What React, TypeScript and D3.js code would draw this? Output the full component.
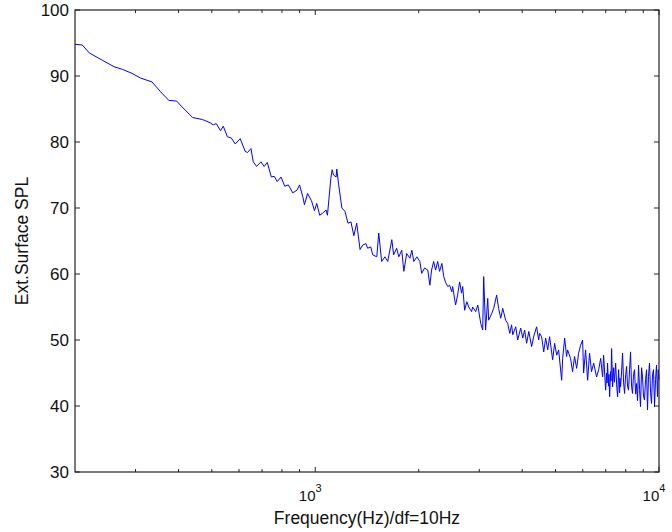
import React from 'react';
import * as d3 from 'd3';

// Frequency (Hz) samples
const freqs = [
  200, 210, 220, 240, 260, 275, 293, 310, 335, 355, 375, 395, 410, 440, 470, 495,
  505, 515, 530, 540, 555, 570, 585, 605, 625, 635, 650, 660, 675, 695, 710, 725,
  745, 760, 775, 795, 815, 835, 860, 885, 900, 920, 930, 950, 975, 995,
  1010, 1030, 1050, 1075, 1085, 1110, 1120, 1130, 1150, 1155, 1170, 1195, 1220, 1245,
  1270, 1295, 1320, 1350, 1375, 1405, 1420, 1450, 1470, 1510, 1530, 1560,
  1595, 1625, 1670, 1690, 1725, 1750, 1785, 1810, 1845, 1885, 1910, 1935, 1975,
  2015, 2040, 2080, 2125, 2155, 2180, 2210, 2240, 2270, 2300, 2335, 2365, 2395, 2430, 2460, 2495, 2510,
  2560, 2595, 2630, 2665, 2685, 2720, 2760, 2795, 2850, 2870, 2930, 2970, 3030, 3070, 3090, 3130,
  3175, 3195, 3260, 3305, 3370, 3415, 3465, 3510, 3580, 3630, 3680, 3725, 3755, 3830, 3880, 3960,
  4015, 4065, 4120, 4180, 4260, 4320, 4405, 4465, 4495, 4555, 4620, 4680, 4745, 4805, 4905, 4970,
  5040, 5105, 5210, 5245, 5315, 5385, 5420, 5530, 5605, 5680, 5760, 5835, 5915, 5995, 6035, 6115, 6200, 6280,
  6365, 6455, 6585, 6675, 6765, 6855, 6900, 6995,
  7040, 7060, 7085, 7130, 7150, 7185, 7230, 7250, 7280, 7330, 7380, 7420, 7480, 7530, 7580, 7630, 7680, 7700,
  7730, 7780, 7835, 7890, 7940, 8000, 8050, 8100, 8155, 8210, 8265, 8320, 8375, 8430, 8490, 8550, 8605, 8660,
  8720, 8780, 8835, 8900, 8955, 9015, 9075, 9140, 9200, 9260, 9320, 9385, 9450, 9510, 9575, 9640, 9705, 9770,
  9835, 9900, 9950, 10000,
];

// Ext. surface SPL (dB) at each frequency above
const spl = [
  94.8, 94.7, 93.5, 92.4, 91.4, 91.0, 90.4, 89.7, 89.1, 87.6, 86.3, 86.2, 85.3, 83.7, 83.4, 82.9,
  82.6, 82.8, 81.7, 82.4, 80.8, 80.6, 79.7, 80.5, 78.6, 78.4, 79.0, 77.0, 76.3, 77.0, 76.3, 76.9,
  74.7, 74.8, 74.0, 74.7, 73.3, 73.5, 72.3, 72.7, 73.5, 71.7, 70.5, 72.2, 71.1, 69.6,
  70.7, 68.9, 69.2, 69.7, 68.9, 74.5, 75.8, 75.0, 74.7, 75.9, 73.5, 70.0, 69.5, 67.7,
  67.9, 65.8, 67.7, 63.7, 64.4, 64.6, 63.9, 64.1, 62.9, 62.6, 66.2, 61.9,
  62.6, 61.9, 65.2, 62.9, 63.9, 62.6, 63.6, 60.4, 63.1, 62.4, 63.6, 61.9, 62.6,
  61.9, 60.1, 60.9, 60.6, 58.3, 60.6, 61.9, 60.6, 61.9, 60.4, 61.6, 59.6, 58.7, 58.1, 58.3, 57.3, 58.1,
  55.3, 56.8, 58.8, 57.1, 58.1, 54.5, 55.8, 55.0, 54.3, 55.0, 54.3, 55.3, 52.5, 51.5, 59.6, 51.5,
  56.3, 53.0, 54.0, 54.8, 56.8, 54.8, 53.3, 54.8, 53.0, 52.5, 51.0, 52.3, 50.8, 52.0, 50.0, 51.8,
  50.3, 51.5, 49.5, 51.3, 49.0, 50.5, 52.0, 50.0, 51.0, 50.5, 48.2, 50.3, 48.5, 50.5, 47.0, 49.5,
  47.7, 48.5, 43.9, 47.2, 50.3, 47.5, 48.5, 47.2, 45.2, 47.5, 45.7, 48.0, 49.2, 50.0, 45.0, 48.5, 43.9, 48.0,
  45.2, 46.5, 44.4, 45.5, 47.2, 44.4, 47.7, 42.4,
  45.0, 43.5, 46.5, 43.0, 44.8, 41.4, 45.2, 43.8, 48.7, 42.9, 45.8, 43.6, 46.5, 43.2, 41.4, 45.5, 42.0, 44.2,
  42.9, 45.0, 48.0, 43.5, 41.9, 44.8, 46.0, 43.0, 42.4, 45.5, 48.2, 43.0, 41.9, 44.8, 45.5, 41.8, 43.4, 40.8,
  46.2, 42.5, 39.9, 45.8, 44.4, 41.5, 40.9, 44.0, 45.5, 39.4, 44.5, 46.5, 42.0, 40.4, 44.8, 45.5, 39.9, 44.0,
  46.2, 41.4, 45.5, 44.0,
];

const yTicks = [30, 40, 50, 60, 70, 80, 90, 100];
const xMajorTicks = [1000, 10000];
const xMinorTicks = [300, 400, 500, 600, 700, 800, 900, 2000, 3000, 4000, 5000, 6000, 7000, 8000, 9000];

const W = 672;
const H = 532;
const margin = { top: 10, right: 13, bottom: 60, left: 75 };
const plotW = W - margin.left - margin.right;
const plotH = H - margin.top - margin.bottom;

const App = () => {
  const x = d3.scaleLog().domain([200, 10000]).range([0, plotW]);
  const y = d3.scaleLinear().domain([30, 100]).range([plotH, 0]);

  const points: [number, number][] = freqs.map((f, i) => [f, spl[i]]);
  const line = d3.line<[number, number]>()
    .x(d => x(d[0]))
    .y(d => y(d[1]));

  const font = 'Liberation Sans, Arial, sans-serif';
  const tickLen = 5;

  return (
    <svg width={W} height={H} style={{ position: 'absolute', left: 0, top: 0, background: '#fff' }}
      fontFamily={font}>
      <g transform={`translate(${margin.left},${margin.top})`}>
        <path d={line(points) || ''} fill="none" stroke="#0000ff" strokeWidth={1} />

        {/* box */}
        <rect x={0} y={0} width={plotW} height={plotH} fill="none" stroke="#222" strokeWidth={1.2} />

        {/* y ticks, both sides */}
        {yTicks.map(t => (
          <g key={`y${t}`}>
            <line x1={0} x2={tickLen} y1={y(t)} y2={y(t)} stroke="#222" />
            <line x1={plotW} x2={plotW - tickLen} y1={y(t)} y2={y(t)} stroke="#222" />
            <text x={-6} y={y(t)} dy="0.36em" textAnchor="end" fontSize={17} fill="#111">{t}</text>
          </g>
        ))}

        {/* x ticks, top and bottom */}
        {xMinorTicks.map(t => (
          <g key={`xm${t}`}>
            <line x1={x(t)} x2={x(t)} y1={plotH} y2={plotH - 3} stroke="#222" />
            <line x1={x(t)} x2={x(t)} y1={0} y2={3} stroke="#222" />
          </g>
        ))}
        {xMajorTicks.map(t => (
          <g key={`xM${t}`}>
            <line x1={x(t)} x2={x(t)} y1={plotH} y2={plotH - tickLen} stroke="#222" />
            <line x1={x(t)} x2={x(t)} y1={0} y2={tickLen} stroke="#222" />
            <text x={x(t) - 5} y={plotH + 29} textAnchor="middle" fontSize={15} fill="#111">
              10<tspan dy={-9} fontSize={11}>{Math.round(Math.log10(t))}</tspan>
            </text>
          </g>
        ))}

        <text x={plotW / 2} y={plotH + 52} textAnchor="middle" fontSize={17.5} fill="#111">
          Frequency(Hz)/df=10Hz
        </text>
        <text transform={`translate(${-47},${plotH / 2}) rotate(-90)`} textAnchor="middle" fontSize={17.5} fill="#111">
          Ext.Surface SPL
        </text>
      </g>
    </svg>
  );
};

export default App;
